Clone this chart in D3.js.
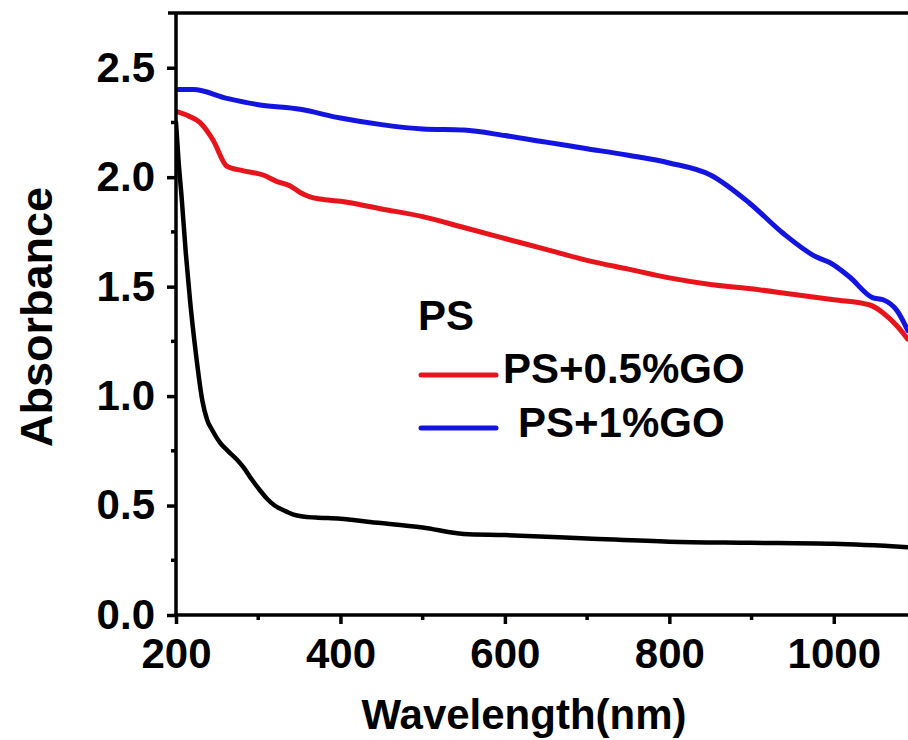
<!DOCTYPE html>
<html>
<head>
<meta charset="utf-8">
<script src="https://cdn.jsdelivr.net/npm/d3@7"></script>
<style>
  html, body { margin: 0; padding: 0; background: #fff; }
  svg { display: block; }
  text { font-family: "Liberation Sans", Arial, sans-serif; font-weight: bold; fill: #000; }
</style>
</head>
<body>
<svg id="chart" width="908" height="740"></svg>
<script>
// UV-Vis absorbance spectra of polystyrene films with graphene oxide
const wavePS = [200, 203, 207, 212, 217, 224, 232, 238, 244, 253, 263, 274, 283, 292, 302, 311, 320, 330, 342, 354, 370, 400, 436, 500, 550, 600, 700, 800, 900, 1000, 1090];
const absPS  = [2.25, 2.08, 1.90, 1.65, 1.44, 1.20, 0.98, 0.89, 0.845, 0.79, 0.75, 0.71, 0.67, 0.62, 0.57, 0.53, 0.50, 0.48, 0.46, 0.45, 0.445, 0.44, 0.425, 0.40, 0.37, 0.365, 0.35, 0.335, 0.33, 0.325, 0.31];

const wavePS05 = [200, 215, 229, 245, 262, 281, 306, 323, 339, 351, 363, 375, 400, 450, 500, 550, 600, 650, 700, 750, 800, 850, 900, 950, 1000, 1044, 1060, 1077, 1090];
const absPS05  = [2.30, 2.28, 2.25, 2.17, 2.05, 2.03, 2.01, 1.98, 1.96, 1.93, 1.91, 1.90, 1.89, 1.855, 1.82, 1.77, 1.72, 1.67, 1.62, 1.58, 1.54, 1.51, 1.49, 1.465, 1.44, 1.416, 1.38, 1.32, 1.26];

const wavePS1 = [200, 221, 262, 302, 351, 400, 450, 500, 550, 600, 650, 700, 750, 800, 850, 898, 938, 979, 995, 1019, 1047, 1060, 1077, 1090];
const absPS1  = [2.40, 2.40, 2.36, 2.33, 2.31, 2.27, 2.24, 2.22, 2.215, 2.19, 2.16, 2.13, 2.10, 2.065, 2.01, 1.88, 1.745, 1.635, 1.61, 1.545, 1.45, 1.44, 1.39, 1.30];

const xMajorTicks = [200, 400, 600, 800, 1000];
const xMinorTicks = [300, 500, 700, 900, 1100];
const yMajorTicks = [0.0, 0.5, 1.0, 1.5, 2.0, 2.5];
const yMinorTicks = [0.25, 0.75, 1.25, 1.75, 2.25];

const seriesNames  = ["PS", "PS+0.5%GO", "PS+1%GO"];
const seriesColors = ["#000000", "#e8141c", "#1414e0"];

const svg = d3.select("#chart");
const plotLeft = 176, plotRight = 916, plotTop = 13, plotBottom = 615;

const x = d3.scaleLinear().domain([200, 1100]).range([plotLeft, plotRight]);
const y = d3.scaleLinear().domain([0, 2.75]).range([plotBottom, plotTop]);

// curves
const series = [
  {name: seriesNames[0], color: seriesColors[0], w: wavePS,   a: absPS,   width: 4.5},
  {name: seriesNames[1], color: seriesColors[1], w: wavePS05, a: absPS05, width: 5},
  {name: seriesNames[2], color: seriesColors[2], w: wavePS1,  a: absPS1,  width: 5}
];

svg.append("clipPath").attr("id", "plotClip")
  .append("rect").attr("x", plotLeft).attr("y", plotTop)
  .attr("width", plotRight - plotLeft).attr("height", plotBottom - plotTop);

const line = d3.line().x(d => x(d[0])).y(d => y(d[1])).curve(d3.curveMonotoneX);

const plot = svg.append("g").attr("clip-path", "url(#plotClip)");
// draw blue, red, then black so the steep black edge sits on top
[series[2], series[1], series[0]].forEach(s => {
  plot.append("path")
    .datum(s.w.map((w, i) => [w, s.a[i]]))
    .attr("fill", "none")
    .attr("stroke", s.color)
    .attr("stroke-width", s.width)
    .attr("stroke-linejoin", "round")
    .attr("stroke-linecap", "round")
    .attr("d", line);
});

// frame: top border
svg.append("line")
  .attr("x1", plotLeft - 8).attr("x2", 908).attr("y1", plotTop).attr("y2", plotTop)
  .attr("stroke", "#000").attr("stroke-width", 3.5);

// x axis
const xAxis = svg.append("g").attr("transform", `translate(0,${plotBottom})`)
  .call(d3.axisBottom(x).tickValues(xMajorTicks).tickSize(9).tickPadding(14).tickFormat(d3.format("d")));
xAxis.select(".domain").attr("stroke-width", 3.5).attr("d", `M${plotLeft - 2},0H${plotRight}`);
xAxis.selectAll(".tick line").attr("stroke-width", 3.5);
xAxis.selectAll(".tick text").style("font-size", "42px").attr("dy", "0.72em");

svg.append("g").attr("transform", `translate(0,${plotBottom})`)
  .selectAll("line").data(xMinorTicks).join("line")
  .attr("x1", d => x(d)).attr("x2", d => x(d)).attr("y1", 0).attr("y2", 5)
  .attr("stroke", "#000").attr("stroke-width", 3.5);

// y axis
const yAxis = svg.append("g").attr("transform", `translate(${plotLeft},0)`)
  .call(d3.axisLeft(y).tickValues(yMajorTicks).tickSize(9).tickPadding(12).tickFormat(d3.format(".1f")));
yAxis.select(".domain").attr("stroke-width", 3.5).attr("d", `M0,${plotBottom + 2}V${plotTop}`);
yAxis.selectAll(".tick line").attr("stroke-width", 3.5);
yAxis.selectAll(".tick text").style("font-size", "42px");

svg.append("g").attr("transform", `translate(${plotLeft},0)`)
  .selectAll("line").data(yMinorTicks).join("line")
  .attr("x1", 0).attr("x2", -5).attr("y1", d => y(d)).attr("y2", d => y(d))
  .attr("stroke", "#000").attr("stroke-width", 3.5);

// axis titles
svg.append("text")
  .attr("x", 524).attr("y", 729)
  .attr("text-anchor", "middle")
  .style("font-size", "42px")
  .text("Wavelength(nm)");

svg.append("text")
  .attr("transform", "translate(52,317) rotate(-90)")
  .attr("text-anchor", "middle")
  .style("font-size", "45px")
  .text("Absorbance");

// legend
const legend = svg.append("g");
const legendRows = [
  {name: seriesNames[0], color: null,            lineY: null, tx: 418, ty: 330},
  {name: seriesNames[1], color: seriesColors[1], lineY: 375,  tx: 503, ty: 383},
  {name: seriesNames[2], color: seriesColors[2], lineY: 428,  tx: 518, ty: 437}
];
legendRows.forEach(r => {
  if (r.color) {
    legend.append("line")
      .attr("x1", 421).attr("x2", 496).attr("y1", r.lineY).attr("y2", r.lineY)
      .attr("stroke", r.color).attr("stroke-width", 5).attr("stroke-linecap", "round");
  }
  legend.append("text")
    .attr("x", r.tx).attr("y", r.ty)
    .style("font-size", "42px")
    .text(r.name);
});
</script>
</body>
</html>
